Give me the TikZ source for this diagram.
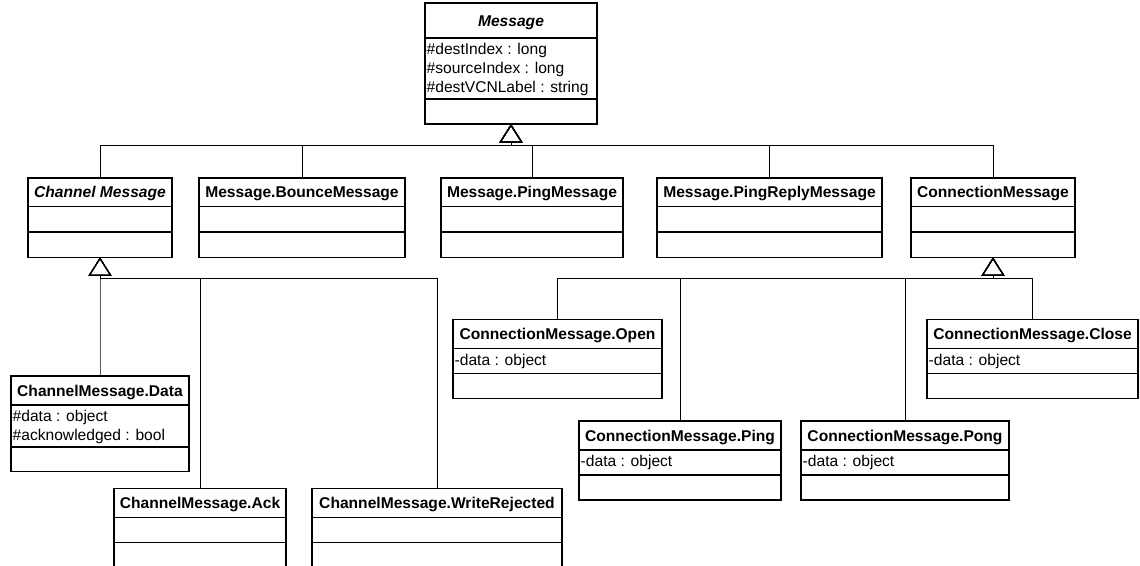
\documentclass[tikz,border=0pt]{standalone}
\usepackage{fontspec}
\setmainfont{Liberation Sans}
\usetikzlibrary{arrows.meta}

\newcommand{\classfont}{\fontsize{15.6}{19}\selectfont}

% UML class box: name, left x, top y, width, header/attribute/operation heights, title, attributes
\newcommand{\umlclass}[9]{%
  \node[classbox, minimum width={#4*1pt}, minimum height={(#5+#6+#7)*1pt}] (#1) at (#2,#3) {};
  \draw[boxline] ([yshift={-#5*1pt}]#1.north west) -- ([yshift={-#5*1pt}]#1.north east);
  \draw[boxline] ([yshift={-(#5+#6)*1pt}]#1.north west) -- ([yshift={-(#5+#6)*1pt}]#1.north east);
  \node[anchor=base, inner sep=0pt, font=\classfont\bfseries] (#1-title) at ([yshift={-(#5/2+5.5)*1pt}]#1.north) {#8};
  \node[anchor=north west, align=left, inner sep=0pt, font=\classfont] (#1-attr) at ([xshift=1.5pt, yshift={-(#5+4)*1pt}]#1.north west) {\rule{0pt}{12.5pt}#9};
}

\tikzset{
  boxline/.style={line width=1.4pt, line cap=rect},
  classbox/.style={draw, line width=1.4pt, fill=white, anchor=north west, inner sep=0pt, outer sep=0pt},
  gen/.style={line width=1pt, -{Triangle[open, length=18.5pt, width=23pt, line width=1.2pt]}},
}

\begin{document}
\begin{tikzpicture}[x=1pt, y=-1pt]
\clip (0,0) rectangle (1140,565);
\fill[white] (0,0) rectangle (1140,565);

% base class
\umlclass{msg}{425}{3}{172}{35}{61}{25}{\itshape Message}{\#destIndex : long\\\#sourceIndex : long\\\#destVCNLabel : string}

% direct subclasses
\umlclass{chan}{28}{178}{144}{28.7}{25.3}{25.3}{\itshape Channel Message}{}
\umlclass{bounce}{199}{178}{206}{28.7}{25.3}{25.3}{Message.BounceMessage}{}
\umlclass{pingmsg}{441}{178}{182}{28.7}{25.3}{25.3}{Message.PingMessage}{}
\umlclass{pingreply}{657}{178}{225}{28.7}{25.3}{25.3}{Message.PingReplyMessage}{}
\umlclass{conn}{911}{178}{164}{28.7}{25.3}{25.3}{ConnectionMessage}{}

% channel messages
\umlclass{data}{11}{376}{178}{29}{42}{24.5}{ChannelMessage.Data}{\#data : object\\\#acknowledged : bool}
\umlclass{ack}{114}{488.5}{172}{29}{25}{25}{ChannelMessage.Ack}{}
\umlclass{wrej}{312}{488.5}{250}{29}{25}{25}{ChannelMessage.WriteRejected}{}

% connection messages
\umlclass{open}{453}{319.5}{209}{29}{25}{25}{ConnectionMessage.Open}{-data : object}
\umlclass{close}{927}{319.5}{211}{29}{25}{25}{ConnectionMessage.Close}{-data : object}
\umlclass{ping}{579}{421}{202}{29}{25}{25}{ConnectionMessage.Ping}{-data : object}
\umlclass{pong}{801}{421}{208}{29}{25}{25}{ConnectionMessage.Pong}{-data : object}

% generalisations to Message
\foreach \c in {chan, bounce, pingmsg, pingreply, conn}
  \draw[gen] (\c.north) |- ([yshift=-21.5pt]msg.south) -- (msg.south);

% generalisations to Channel Message
\foreach \c in {data, ack, wrej}
  \draw[gen] (\c.north) |- ([yshift=-21pt]chan.south) -- (chan.south);

% generalisations to ConnectionMessage
\foreach \c in {open, ping, pong, close}
  \draw[gen] (\c.north) |- ([yshift=-21pt]conn.south) -- (conn.south);
\end{tikzpicture}
\end{document}
